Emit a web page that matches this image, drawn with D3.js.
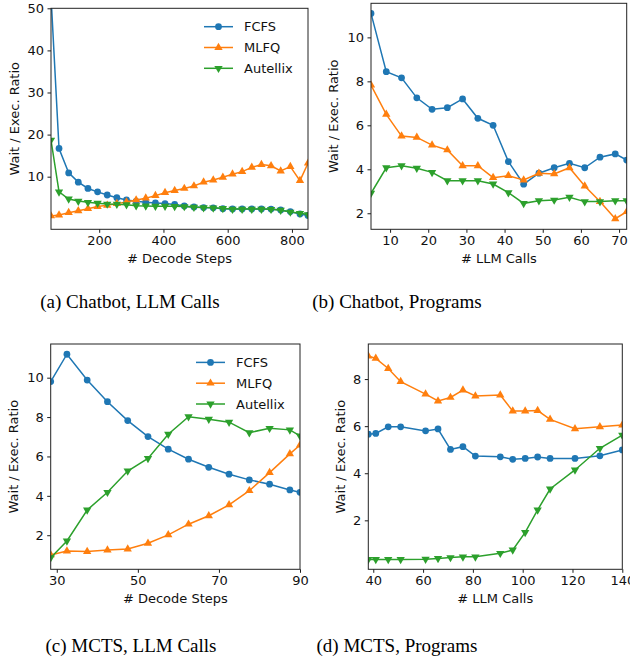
<!DOCTYPE html>
<html>
<head>
<meta charset="utf-8">
<script src="https://cdn.jsdelivr.net/npm/d3@7/dist/d3.min.js"></script>
<style>
  body { margin: 0; background: #fff; }
  svg { display: block; }
</style>
</head>
<body>
<svg id="fig" width="630" height="657"></svg>
<script>
var seriesNames = ['FCFS', 'MLFQ', 'Autellix'];
var seriesColors = ['#1f77b4', '#ff7f0e', '#2ca02c'];

// (a) Chatbot, LLM Calls
var aSteps = [50, 75, 105, 135, 165, 195, 225, 255, 285, 315, 345, 375, 405, 435, 465, 495, 525, 555, 585, 615, 645, 675, 705, 735, 765, 795, 825, 850];
var aFcfs = [53, 16.7, 10.9, 8.7, 7.2, 6.4, 5.65, 5.0, 4.47, 4.15, 3.9, 3.75, 3.6, 3.4, 3.05, 2.8, 2.65, 2.6, 2.4, 2.35, 2.35, 2.35, 2.35, 2.3, 2.1, 1.7, 1.15, 0.8];
var aMlfq = [0.67, 0.9, 1.45, 1.9, 2.4, 2.9, 3.2, 3.6, 4.0, 4.47, 4.9, 5.5, 6.2, 6.7, 7.2, 7.8, 8.7, 9.2, 9.85, 10.6, 11.2, 12.2, 12.9, 12.6, 11.35, 12.4, 9.05, 13.2];
var aAutellix = [18.7, 6.4, 4.7, 4.2, 3.9, 3.7, 3.5, 3.45, 3.35, 3.1, 3.05, 3.0, 3.0, 2.95, 2.9, 2.75, 2.65, 2.6, 2.45, 2.3, 2.3, 2.3, 2.3, 2.25, 2.05, 1.6, 1.3, 1.0];

// (b) Chatbot, Programs
var bCalls = [5, 9, 13, 17, 21, 25, 29, 33, 37, 41, 45, 49, 53, 57, 61, 65, 69, 72];
var bFcfs = [11.09, 8.44, 8.16, 7.25, 6.73, 6.8, 7.2, 6.32, 6.0, 4.35, 3.32, 3.82, 4.07, 4.27, 4.07, 4.55, 4.7, 4.42];
var bMlfq = [7.83, 6.5, 5.51, 5.45, 5.1, 4.88, 4.16, 4.16, 3.62, 3.71, 3.51, 3.82, 3.79, 4.07, 3.24, 2.53, 1.75, 2.07];
var bAutellix = [2.91, 4.07, 4.16, 4.05, 3.86, 3.48, 3.48, 3.48, 3.33, 2.94, 2.45, 2.57, 2.6, 2.73, 2.53, 2.53, 2.57, 2.57];

// (c) MCTS, LLM Calls
var cSteps = [28.5, 32.5, 37.5, 42.5, 47.5, 52.5, 57.5, 62.5, 67.5, 72.5, 77.5, 82.5, 87.5, 90];
var cFcfs = [9.8, 11.19, 9.88, 8.78, 7.82, 7.01, 6.37, 5.86, 5.45, 5.1, 4.81, 4.59, 4.3, 4.18];
var cMlfq = [1.0, 1.2, 1.17, 1.25, 1.3, 1.59, 2.02, 2.56, 2.99, 3.54, 4.26, 5.18, 6.13, 6.58];
var cAutellix = [0.86, 1.71, 3.28, 4.18, 5.26, 5.9, 7.13, 8.02, 7.89, 7.74, 7.21, 7.43, 7.35, 7.04];

// (d) MCTS, Programs
var dCalls = [38, 41, 46, 51, 61, 66, 71, 76, 81, 91, 96, 101, 106, 111, 121, 131, 140];
var dFcfs = [5.66, 5.69, 5.97, 5.97, 5.8, 5.88, 5.01, 5.13, 4.73, 4.7, 4.59, 4.63, 4.69, 4.63, 4.63, 4.74, 4.99];
var dMlfq = [8.98, 8.88, 8.45, 7.89, 7.36, 7.07, 7.22, 7.53, 7.28, 7.32, 6.64, 6.64, 6.66, 6.29, 5.89, 5.97, 6.05];
var dAutellix = [0.34, 0.34, 0.34, 0.34, 0.35, 0.38, 0.42, 0.45, 0.45, 0.6, 0.74, 1.49, 2.44, 3.33, 4.14, 5.06, 5.62];

var svg = d3.select('#fig');
svg.append('rect').attr('width', 630).attr('height', 657).attr('fill', '#fff');

var tickFont = 13;
var markers = [d3.symbolCircle, d3.symbolTriangle, d3.symbolTriangle];

function drawPanel(p) {
    var x = d3.scaleLinear().domain(p.xDomain).range([p.left, p.right]);
    var y = d3.scaleLinear().domain(p.yDomain).range([p.bottom, p.top]);
    var g = svg.append('g');

    g.append('clipPath').attr('id', 'clip-' + p.id)
        .append('rect')
        .attr('x', p.left).attr('y', p.top)
        .attr('width', p.right - p.left).attr('height', p.bottom - p.top);

    var plot = g.append('g').attr('clip-path', 'url(#clip-' + p.id + ')');

    p.series.forEach(function (vals, i) {
        var pts = p.xs.map(function (xv, k) { return [xv, vals[k]]; });
        plot.append('path')
            .datum(pts)
            .attr('fill', 'none')
            .attr('stroke', seriesColors[i])
            .attr('stroke-width', 1.5)
            .attr('d', d3.line().x(function (d) { return x(d[0]); }).y(function (d) { return y(d[1]); }));
        plot.selectAll('.m' + i)
            .data(pts)
            .enter().append('path')
            .attr('class', 'm' + i)
            .attr('fill', seriesColors[i])
            .attr('d', d3.symbol().type(markers[i]).size(i === 0 ? 36 : 30))
            .attr('transform', function (d) {
                return 'translate(' + x(d[0]) + ',' + y(d[1]) + ')' + (i === 2 ? ' rotate(180)' : '');
            });
    });

    var xAxis = g.append('g')
        .attr('transform', 'translate(0,' + p.bottom + ')')
        .call(d3.axisBottom(x).tickValues(p.xTicks).tickSize(3.5).tickPadding(3));
    var yAxis = g.append('g')
        .attr('transform', 'translate(' + p.left + ',0)')
        .call(d3.axisLeft(y).tickValues(p.yTicks).tickSize(3.5).tickPadding(3.5));
    [xAxis, yAxis].forEach(function (ax) {
        ax.select('.domain').remove();
        ax.attr('font-family', '"DejaVu Sans", sans-serif').attr('font-size', tickFont);
        ax.selectAll('line').attr('stroke', '#000').attr('stroke-width', 0.9);
        ax.selectAll('text').attr('fill', '#111');
    });

    g.append('rect')
        .attr('x', p.left).attr('y', p.top)
        .attr('width', p.right - p.left).attr('height', p.bottom - p.top)
        .attr('fill', 'none').attr('stroke', '#222').attr('stroke-width', 1);

    g.append('text')
        .attr('x', (p.left + p.right) / 2).attr('y', p.bottom + 34)
        .attr('text-anchor', 'middle')
        .attr('font-family', '"DejaVu Sans", sans-serif').attr('font-size', tickFont)
        .attr('fill', '#111')
        .text(p.xLabel);

    g.append('text')
        .attr('transform', 'translate(' + (p.left - p.yLabelGap) + ',' + ((p.top + p.bottom) / 2) + ') rotate(-90)')
        .attr('text-anchor', 'middle')
        .attr('font-family', '"DejaVu Sans", sans-serif').attr('font-size', tickFont)
        .attr('fill', '#111')
        .text('Wait / Exec. Ratio');

    if (p.legend) {
        var lg = g.append('g').attr('transform', 'translate(' + (p.right - 104) + ',' + (p.top + 18.4) + ')');
        seriesNames.forEach(function (name, i) {
            var row = lg.append('g').attr('transform', 'translate(0,' + (i * 20.8) + ')');
            row.append('line').attr('x1', 0).attr('x2', 29).attr('y1', 0).attr('y2', 0)
                .attr('stroke', seriesColors[i]).attr('stroke-width', 1.5);
            row.append('path')
                .attr('d', d3.symbol().type(markers[i]).size(i === 0 ? 36 : 30))
                .attr('fill', seriesColors[i])
                .attr('transform', 'translate(14.5,0)' + (i === 2 ? ' rotate(180)' : ''));
            row.append('text').attr('x', 40).attr('y', 0).attr('dy', '0.35em')
                .attr('font-family', '"DejaVu Sans", sans-serif').attr('font-size', tickFont)
                .attr('fill', '#111')
                .text(name);
        });
    }

    svg.append('text')
        .attr('x', p.captionX).attr('y', p.captionY)
        .attr('text-anchor', 'middle')
        .attr('font-family', '"Liberation Serif", "Times New Roman", serif')
        .attr('font-size', 19)
        .attr('fill', '#000')
        .text(p.caption);
}

drawPanel({
    id: 'a', left: 51, right: 308, top: 8.3, bottom: 229.3,
    xDomain: [50, 850], yDomain: [-2.5, 50],
    xTicks: [200, 400, 600, 800], yTicks: [10, 20, 30, 40, 50],
    xs: aSteps, series: [aFcfs, aMlfq, aAutellix],
    xLabel: '# Decode Steps', yLabelGap: 32, legend: true,
    caption: '(a) Chatbot, LLM Calls', captionX: 130, captionY: 308
});

drawPanel({
    id: 'b', left: 371, right: 626.7, top: 3.3, bottom: 229.3,
    xDomain: [5, 72], yDomain: [1.27, 11.55],
    xTicks: [10, 20, 30, 40, 50, 60, 70], yTicks: [2, 4, 6, 8, 10],
    xs: bCalls, series: [bFcfs, bMlfq, bAutellix],
    xLabel: '# LLM Calls', yLabelGap: 33, legend: false,
    caption: '(b) Chatbot, Programs', captionX: 397, captionY: 308
});

drawPanel({
    id: 'c', left: 50.7, right: 300, top: 344, bottom: 569.3,
    xDomain: [28.5, 90], yDomain: [0.27, 11.71],
    xTicks: [30, 50, 70, 90], yTicks: [2, 4, 6, 8, 10],
    xs: cSteps, series: [cFcfs, cMlfq, cAutellix],
    xLabel: '# Decode Steps', yLabelGap: 32.4, legend: true,
    caption: '(c) MCTS, LLM Calls', captionX: 131, captionY: 652
});

drawPanel({
    id: 'd', left: 368.3, right: 622.3, top: 344, bottom: 569.3,
    xDomain: [38, 140], yDomain: [-0.08, 9.49],
    xTicks: [40, 60, 80, 100, 120, 140], yTicks: [2, 4, 6, 8],
    xs: dCalls, series: [dFcfs, dMlfq, dAutellix],
    xLabel: '# LLM Calls', yLabelGap: 23.5, legend: false,
    caption: '(d) MCTS, Programs', captionX: 397, captionY: 652
});
</script>
</body>
</html>
